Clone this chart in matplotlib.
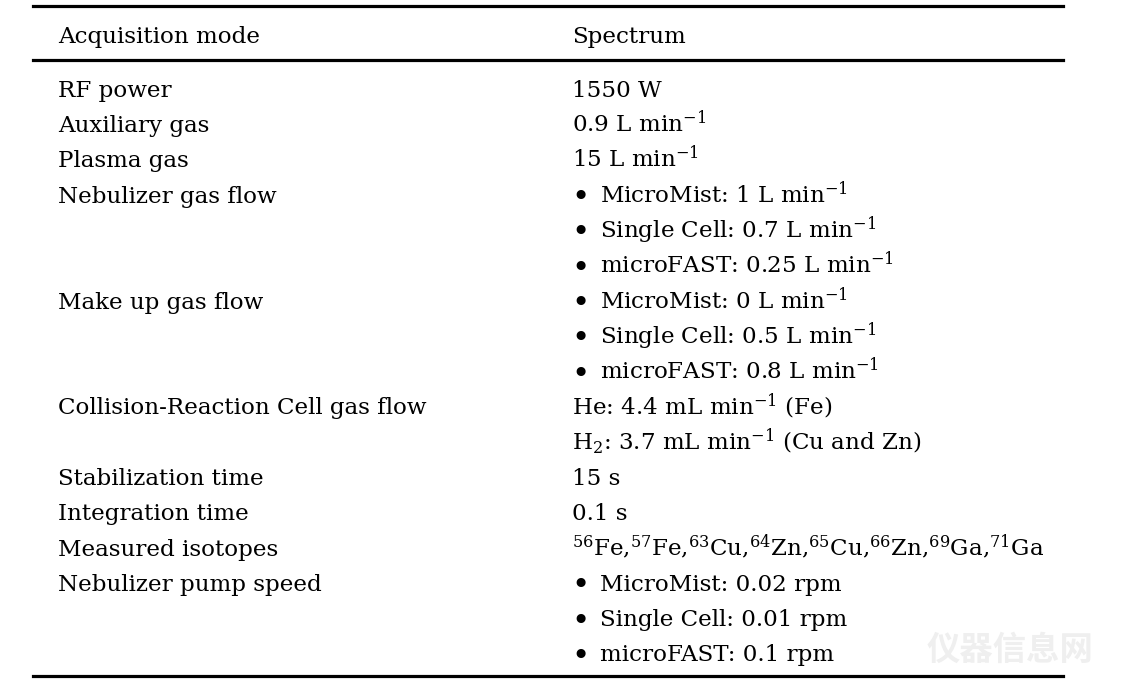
import matplotlib
matplotlib.use("Agg")
import matplotlib.pyplot as plt
from matplotlib.lines import Line2D

plt.rcParams['font.family'] = ['DejaVu Serif']
plt.rcParams['mathtext.fontset'] = 'dejavuserif'

header = ["Acquisition mode", "Spectrum"]
params = ["RF power", "Auxiliary gas", "Plasma gas", "Nebulizer gas flow", "", "",
          "Make up gas flow", "", "", "Collision-Reaction Cell gas flow", "",
          "Stabilization time", "Integration time", "Measured isotopes",
          "Nebulizer pump speed", "", ""]
values = ["1550 W", r"0.9 L min$^{-1}$", r"15 L min$^{-1}$",
          r"MicroMist: 1 L min$^{-1}$", r"Single Cell: 0.7 L min$^{-1}$", r"microFAST: 0.25 L min$^{-1}$",
          r"MicroMist: 0 L min$^{-1}$", r"Single Cell: 0.5 L min$^{-1}$", r"microFAST: 0.8 L min$^{-1}$",
          r"He: 4.4 mL min$^{-1}$ (Fe)", r"H$_2$: 3.7 mL min$^{-1}$ (Cu and Zn)",
          "15 s", "0.1 s",
          r"$^{56}$Fe,$^{57}$Fe,$^{63}$Cu,$^{64}$Zn,$^{65}$Cu,$^{66}$Zn,$^{69}$Ga,$^{71}$Ga",
          "MicroMist: 0.02 rpm", "Single Cell: 0.01 rpm", "microFAST: 0.1 rpm"]
bulleted = [False, False, False, True, True, True, True, True, True,
            False, False, False, False, False, True, True, True]

W, H = 1128, 690
fig = plt.figure(figsize=(W / 100, H / 100), dpi=100)
fig.patch.set_facecolor('white')

def px(x, y):
    return x / W, 1 - y / H

fs = 16.6
# rules
for y in [5.5, 59.5, 676]:
    fig.add_artist(Line2D([33 / W, 1063 / W], [1 - y / H, 1 - y / H], color='black', lw=2.3))

fig.text(*px(58, 42.7), header[0], fontsize=fs, va='baseline', ha='left')
fig.text(*px(572, 42.7), header[1], fontsize=fs, va='baseline', ha='left')

y0, dy = 96.7, 35.3
for i, (p, v, b) in enumerate(zip(params, values, bulleted)):
    y = y0 + dy * i
    if p:
        fig.text(*px(58, y), p, fontsize=fs, va='baseline', ha='left')
    if b:
        fig.text(*px(571, y + 4.5), "\u2022", fontsize=fs * 1.35, va='baseline', ha='left')
        fig.text(*px(600, y), v, fontsize=fs, va='baseline', ha='left')
    else:
        fig.text(*px(572, y), v, fontsize=fs, va='baseline', ha='left')

fig.text(*px(1010, 650), "仪器信息网", fontsize=24, color='#efefef',
         family=['Noto Sans CJK SC'], ha='center', va='center', fontweight='bold')

fig.savefig("out.png", dpi=100)
